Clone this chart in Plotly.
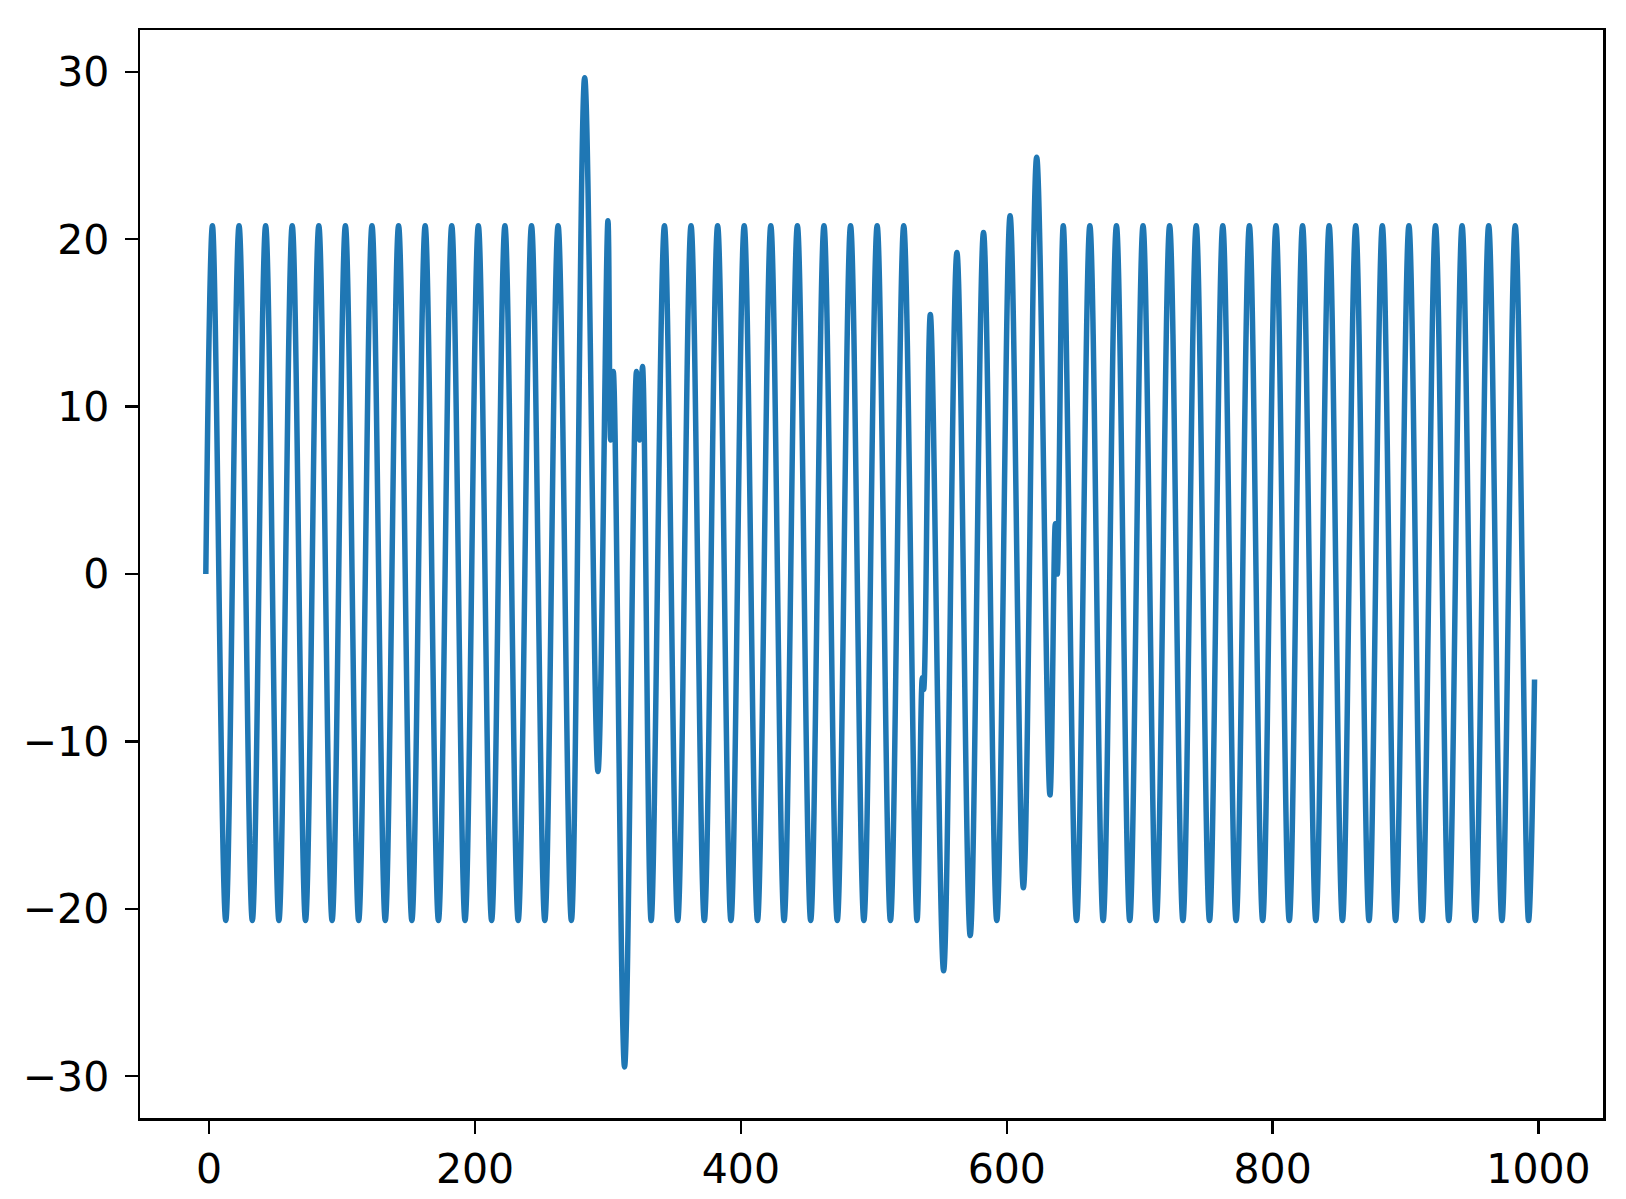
import plotly.graph_objects as go

# Turning points (and a few intermediate kinks)
sample_x = [
    -2.5,
    2.5, 12.5, 22.5, 32.5, 42.5, 52.5, 62.5, 72.5, 82.5, 92.5,
    102.5, 112.5, 122.5, 132.5, 142.5, 152.5, 162.5, 172.5, 182.5, 192.5,
    202.5, 212.5, 222.5, 232.5, 242.5, 252.5, 262.5, 272.5, 282.5, 292.5,
    300.0, 302.0, 304.0, 312.5, 321.5, 323.8, 326.0, 332.5, 342.5, 352.5,
    362.5, 372.5, 382.5, 392.5,
    402.5, 412.5, 422.5, 432.5, 442.5, 452.5, 462.5, 472.5, 482.5, 492.5,
    502.5, 512.5, 522.5, 532.5, 536.5, 537.5, 542.5, 552.5, 562.5, 572.5,
    582.5, 592.5,
    602.5, 612.5, 622.5, 632.5, 636.5, 638.0, 642.5, 652.5, 662.5, 672.5,
    682.5, 692.5,
    702.5, 712.5, 722.5, 732.5, 742.5, 752.5, 762.5, 772.5, 782.5, 792.5,
    802.5, 812.5, 822.5, 832.5, 842.5, 852.5, 862.5, 872.5, 882.5, 892.5,
    902.5, 912.5, 922.5, 932.5, 942.5, 952.5, 962.5, 972.5, 982.5, 992.5,
    997.0,
]
sample_y = [
    0.0,
    20.8, -20.7, 20.8, -20.7, 20.8, -20.7, 20.8, -20.7, 20.8, -20.7,
    20.8, -20.7, 20.8, -20.7, 20.8, -20.7, 20.8, -20.7, 20.8, -20.7,
    20.8, -20.7, 20.8, -20.7, 20.8, -20.7, 20.8, -20.7, 29.65, -11.8,
    21.1, 8.0, 12.1, -29.45, 12.1, 8.0, 12.4, -20.7, 20.8, -20.7,
    20.8, -20.7, 20.8, -20.7,
    20.8, -20.7, 20.8, -20.7, 20.8, -20.7, 20.8, -20.7, 20.8, -20.7,
    20.8, -20.7, 20.8, -20.7, -6.2, -6.9, 15.5, -23.7, 19.2, -21.6,
    20.4, -20.7,
    21.4, -18.75, 24.9, -13.2, 3.0, 0.0, 20.8, -20.7, 20.8, -20.7,
    20.8, -20.7,
    20.8, -20.7, 20.8, -20.7, 20.8, -20.7, 20.8, -20.7, 20.8, -20.7,
    20.8, -20.7, 20.8, -20.7, 20.8, -20.7, 20.8, -20.7, 20.8, -20.7,
    20.8, -20.7, 20.8, -20.7, 20.8, -20.7, 20.8, -20.7, 20.8, -20.7,
    -6.3,
]

x_tick_vals = [0, 200, 400, 600, 800, 1000]
x_tick_text = ["0", "200", "400", "600", "800", "1000"]
y_tick_vals = [-30, -20, -10, 0, 10, 20, 30]
y_tick_text = ["\u221230", "\u221220", "\u221210", "0", "10", "20", "30"]

fig = go.Figure()
fig.add_trace(go.Scatter(
    x=sample_x, y=sample_y, mode="lines",
    line=dict(color="#1f77b4", width=5.5, shape="spline", smoothing=1.0),
    showlegend=False,
))

axis_common = dict(
    showline=True, mirror=True, linecolor="black", linewidth=2.5,
    ticks="outside", ticklen=13, tickwidth=2.5, tickcolor="black",
    showgrid=False, zeroline=False, automargin=False,
    tickfont=dict(family="DejaVu Sans", size=41, color="black"),
)
fig.update_xaxes(range=[-52, 1048.5], tickmode="array", tickvals=x_tick_vals,
                 ticktext=x_tick_text, ticklabelstandoff=0, **axis_common)
fig.update_yaxes(range=[-32.5, 32.5], tickmode="array", tickvals=y_tick_vals,
                 ticktext=y_tick_text, ticklabelstandoff=7, **axis_common)

fig.update_layout(
    width=1626, height=1199,
    margin=dict(l=140, r=23, t=30, b=81, pad=0),
    paper_bgcolor="white", plot_bgcolor="white",
)

# remove the default page body margin so the figure fills the window exactly
fig.write_html(
    "out.html",
    config={"displayModeBar": False, "staticPlot": True},
    post_script="document.body.style.margin='0';document.body.style.overflow='hidden';",
)
